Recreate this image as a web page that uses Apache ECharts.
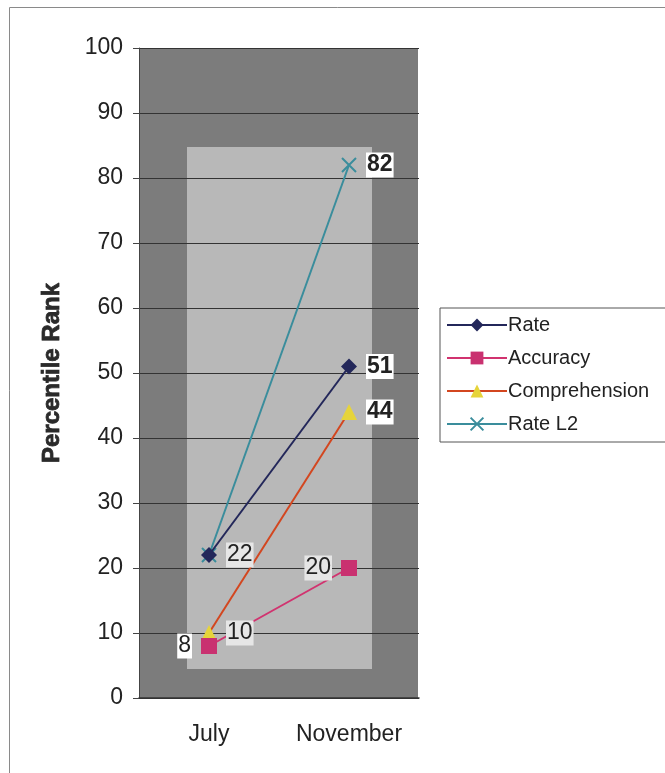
<!DOCTYPE html>
<html>
<head>
<meta charset="utf-8">
<script src="https://cdn.jsdelivr.net/npm/echarts@6/dist/echarts.min.js"></script>
<style>html,body{margin:0;padding:0;background:#fff;}#c{width:665px;height:773px;}</style>
</head>
<body>
<div id="c"></div>
<script>
const categories = ['July', 'November'];
const rate = [22, 51];
const accuracy = [8, 20];
const comprehension = [10, 44];
const rateL2 = [22, 82];
const yTicks = [0, 10, 20, 30, 40, 50, 60, 70, 80, 90, 100];

const FONT = '"Liberation Sans", Arial, sans-serif';
const chart = echarts.init(document.getElementById('c'));

const boldLabel = {show: true, position: 'right', distance: 9, fontFamily: FONT, fontSize: 23, fontWeight: 'bold', color: '#222', backgroundColor: '#ffffff', padding: [2, 1, 0, 1]};
const plainLabel = {show: true, position: 'right', distance: 9, fontFamily: FONT, fontSize: 23, color: '#222', backgroundColor: '#e6e6e6', padding: [2, 1, 0, 1]};

function withLabels(values, labels) {
  return values.map((v, i) => ({value: v, label: labels[i]}));
}

const option = {
  animation: false,
  backgroundColor: '#ffffff',
  graphic: [
    {type: 'rect', z: -20, shape: {x: 9.5, y: 7.5, width: 700, height: 800}, style: {fill: '#fff', stroke: '#8a8a8a', lineWidth: 1}},
    {type: 'rect', z: -10, shape: {x: 139, y: 48, width: 279, height: 650}, style: {fill: '#7c7c7c'}},
    {type: 'rect', z: -9, shape: {x: 187, y: 147, width: 185, height: 522}, style: {fill: '#b8b8b8'}}
  ],
  grid: {left: 139, right: 246, top: 48, bottom: 75, containLabel: false},
  legend: {
    orient: 'vertical', left: 440, top: 308,
    backgroundColor: '#ffffff', borderColor: '#555', borderWidth: 1,
    padding: [7, 60, 8, 6], itemWidth: 60, itemHeight: 16, itemGap: 13,
    textStyle: {fontFamily: FONT, fontSize: 20, color: '#222', padding: [0, 0, 0, -4]},
    data: ['Rate', 'Accuracy', 'Comprehension', 'Rate L2']
  },
  xAxis: {
    type: 'category', data: categories, boundaryGap: true,
    axisLine: {show: true, lineStyle: {color: '#333', width: 1.5}},
    axisTick: {show: false},
    axisLabel: {fontFamily: FONT, fontSize: 23, color: '#222', margin: 25}
  },
  yAxis: {
    type: 'value', min: 0, max: 100, interval: 10,
    name: 'Percentile Rank', nameLocation: 'middle', nameGap: 75, nameRotate: 90,
    nameTextStyle: {fontFamily: '"Liberation Sans", Arial, sans-serif', fontSize: 24, fontWeight: 900, color: '#2a2a2a', textBorderColor: '#2a2a2a', textBorderWidth: 0.8},
    axisLine: {show: true, lineStyle: {color: '#444', width: 1}},
    axisTick: {show: true, inside: false, length: 6, lineStyle: {color: '#444'}},
    axisLabel: {fontFamily: FONT, fontSize: 23, color: '#222', margin: 16},
    splitLine: {show: true, lineStyle: {color: '#333', width: 1}}
  },
  series: [
    {
      name: 'Rate L2', type: 'line', z: 3,
      data: withLabels(rateL2, [{show: false}, boldLabel]),
      symbol: 'path://M0,0L10,10M10,0L0,10', symbolSize: 14,
      lineStyle: {color: '#3a8d9c', width: 2},
      itemStyle: {color: '#3a8d9c', borderColor: '#3a8d9c', borderWidth: 2}
    },
    {
      name: 'Rate', type: 'line', z: 4,
      data: withLabels(rate, [plainLabel, boldLabel]),
      symbol: 'diamond', symbolSize: 16,
      lineStyle: {color: '#23275a', width: 2},
      itemStyle: {color: '#23275a'}
    },
    {
      name: 'Comprehension', type: 'line', z: 3,
      data: withLabels(comprehension, [plainLabel, boldLabel]),
      symbol: 'triangle', symbolSize: 16,
      lineStyle: {color: '#d3461f', width: 2},
      itemStyle: {color: '#e6d43a'}
    },
    {
      name: 'Accuracy', type: 'line', z: 3,
      data: withLabels(accuracy, [Object.assign({}, plainLabel, {position: 'left', backgroundColor: '#ffffff'}), Object.assign({}, plainLabel, {position: 'left'})]),
      symbol: 'rect', symbolSize: 16,
      lineStyle: {color: '#d1336f', width: 2},
      itemStyle: {color: '#c93170'}
    }
  ]
};
chart.setOption(option);
</script>
</body>
</html>
